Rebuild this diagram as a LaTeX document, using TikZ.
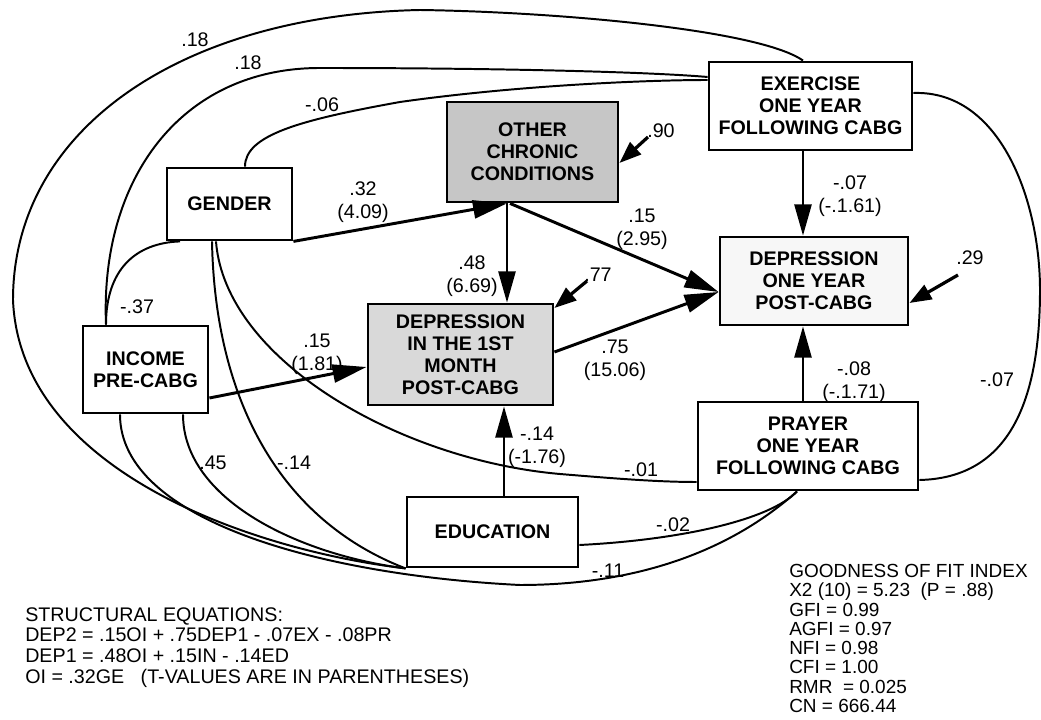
\documentclass[tikz,border=0pt]{standalone}
\usepackage{fontspec}
\setmainfont{Liberation Sans}
\usetikzlibrary{arrows.meta}

\begin{document}
\begin{tikzpicture}[x=0.025cm,y=0.025cm]
\tikzstyle{every node}+=[inner sep=0pt, font=\fontsize{14}{16.3}\selectfont]
\tikzstyle{var}=[draw=black, line width=2pt, align=center, font=\bfseries\fontsize{14}{15.6}\selectfont]
\tikzstyle{coef}=[align=center]
\tikzstyle{effect}=[line width=2.1pt, -{Triangle[length=0.85cm,width=0.45cm]}]
\tikzstyle{thineffect}=[line width=1.4pt, -{Triangle[length=0.78cm,width=0.43cm]}]
\tikzstyle{resid}=[line width=2.3pt, -{Triangle[length=0.55cm,width=0.4cm]}]
\tikzstyle{corr}=[line width=1.4pt]
\tikzstyle{note}=[align=left, anchor=north west]

\useasboundingbox (0,0) rectangle (1041,-720);

\node[var, minimum width=3.125cm, minimum height=1.8cm] (gender) at (229.5,-204) {GENDER};
\node[var, fill=gray!45, minimum width=4.275cm, minimum height=2.5cm] (occ) at (532.5,-152) {OTHER\\CHRONIC\\CONDITIONS};
\node[var, minimum width=5.075cm, minimum height=2.2cm] (exer) at (810.5,-106) {EXERCISE\\ONE YEAR\\FOLLOWING CABG};
\node[var, fill=gray!6, minimum width=4.7cm, minimum height=2.2cm] (dep2) at (814,-281) {DEPRESSION\\ONE YEAR\\POST-CABG};
\node[var, minimum width=3.125cm, minimum height=2.175cm] (income) at (145.5,-369.5) {INCOME\\PRE-CABG};
\node[var, fill=gray!30, minimum width=4.625cm, minimum height=2.525cm] (dep1) at (460.5,-354.5) {DEPRESSION\\IN THE 1ST\\MONTH\\POST-CABG};
\node[var, minimum width=5.5cm, minimum height=2.2cm] (prayer) at (808,-446) {PRAYER\\ONE YEAR\\FOLLOWING CABG};
\node[var, minimum width=4.275cm, minimum height=1.75cm] (educ) at (492.5,-532) {EDUCATION};

\draw[effect] (gender.south east) -- (occ.south -| 507,0);
\draw[thineffect] (occ.south -| 507,0) -- (dep1.north -| 507,0);
\draw[effect] (occ.south -| 510,0) -- (dep2.west |- 0,-292);
\draw[effect] (dep1.east |- 0,-352) -- (dep2.west |- 0,-292);
\draw[effect] (income.east |- 0,-398) -- (dep1.west |- 0,-367);
\draw[thineffect] (educ.north -| 504,0) -- (dep1.south -| 504,0);
\draw[thineffect] (exer.south -| 803,0) -- (dep2.north -| 803,0);
\draw[thineffect] (prayer.north -| 803,0) -- (dep2.south -| 803,0);

\node[coef] (c32) at (363,-202) {.32\\(4.09)};
\node[coef] (c48) at (472,-276) {.48\\(6.69)};
\node[coef] (c15a) at (642,-229.5) {.15\\(2.95)};
\node[coef] (c75) at (615,-360) {.75\\(15.06)};
\node[coef] (c07) at (850,-196.5) {-.07\\(-.1.61)};
\node[coef] (c08) at (854,-382) {-.08\\(-.1.71)};
\node[coef] (c15b) at (317,-354.5) {.15\\(1.81)};
\node[coef] (c14) at (537,-447.5) {-.14\\(-1.76)};

\coordinate (t90) at (648,-137);
\coordinate (t77) at (587,-281);
\coordinate (t29) at (958,-275);
\draw[resid] (t90) -- (occ.east |- 0,-163);
\draw[resid] (t77) -- (dep1.east |- 0,-308);
\draw[resid] (t29) -- (dep2.east |- 0,-303);
\node (e90) at (661,-131) {.90};
\node (e77) at (598,-275) {.77};
\node (e29) at (970,-258) {.29};

\draw[corr] (educ.south west) .. controls (250,-550) and (20,-470) .. (13,-300) .. controls (13,-130) and (180,-15) .. (420,-10) .. controls (560,-12) and (760,-30) .. (exer.north -| 803,0);
\draw[corr] (income.north -| 106,0) .. controls (100,-180) and (180,-68) .. (320,-68) .. controls (500,-68) and (650,-72) .. (exer.west |- 0,-77);
\draw[corr] (gender.north -| 245,0) .. controls (245,-135) and (300,-120) .. (400,-102) .. controls (520,-85) and (650,-80) .. (exer.west |- 0,-80);
\draw[corr] (income.north -| 106,0) .. controls (106,-270) and (135,-243) .. (gender.south -| 180,0);
\draw[corr] (income.south -| 183,0) .. controls (183,-500) and (300,-555) .. (educ.south west);
\draw[corr] (income.south -| 120,0) .. controls (120,-520) and (320,-575) .. (520,-585) .. controls (620,-585) and (720,-560) .. (prayer.south -| 797,0);
\draw[corr] (educ.east |- 0,-545) .. controls (680,-540) and (770,-520) .. (prayer.south -| 797,0);
\draw[corr] (gender.south -| 212,0) .. controls (215,-400) and (280,-520) .. (educ.south west);
\draw[corr] (gender.south -| 216,0) .. controls (225,-360) and (400,-460) .. (560,-474) .. controls (620,-479) and (660,-482) .. (prayer.west |- 0,-482);
\draw[corr] (exer.east |- 0,-93) .. controls (1000,-90) and (1040,-200) .. (1040,-290) .. controls (1040,-400) and (1010,-478) .. (prayer.east |- 0,-480);

\node (r18a) at (195,-40) {.18};
\node (r18b) at (248,-63) {.18};
\node (r06) at (322,-105) {-.06};
\node (r37) at (137,-307) {-.37};
\node (r45) at (213,-463) {.45};
\node (r14) at (294,-463) {-.14};
\node (r01) at (641,-470) {-.01};
\node (r02) at (673,-525) {-.02};
\node (r11) at (608,-571) {-.11};
\node (r07) at (997,-380) {-.07};

\node[note, font=\fontsize{14}{14.7}\selectfont] (eqs) at (25,-607) {STRUCTURAL EQUATIONS:\\DEP2 = .15OI + .75DEP1 - .07EX - .08PR\\DEP1 = .48OI + .15IN - .14ED\\OI = .32GE\ \ \ (T-VALUES ARE IN PARENTHESES)};
\node[note, font=\fontsize{13.5}{13.7}\selectfont] (fit) at (789,-564) {GOODNESS OF FIT INDEX\\X2 (10) = 5.23\ \ (P = .88)\\GFI = 0.99\\AGFI = 0.97\\NFI = 0.98\\CFI = 1.00\\RMR\ \ = 0.025\\CN = 666.44};

\end{tikzpicture}
\end{document}
